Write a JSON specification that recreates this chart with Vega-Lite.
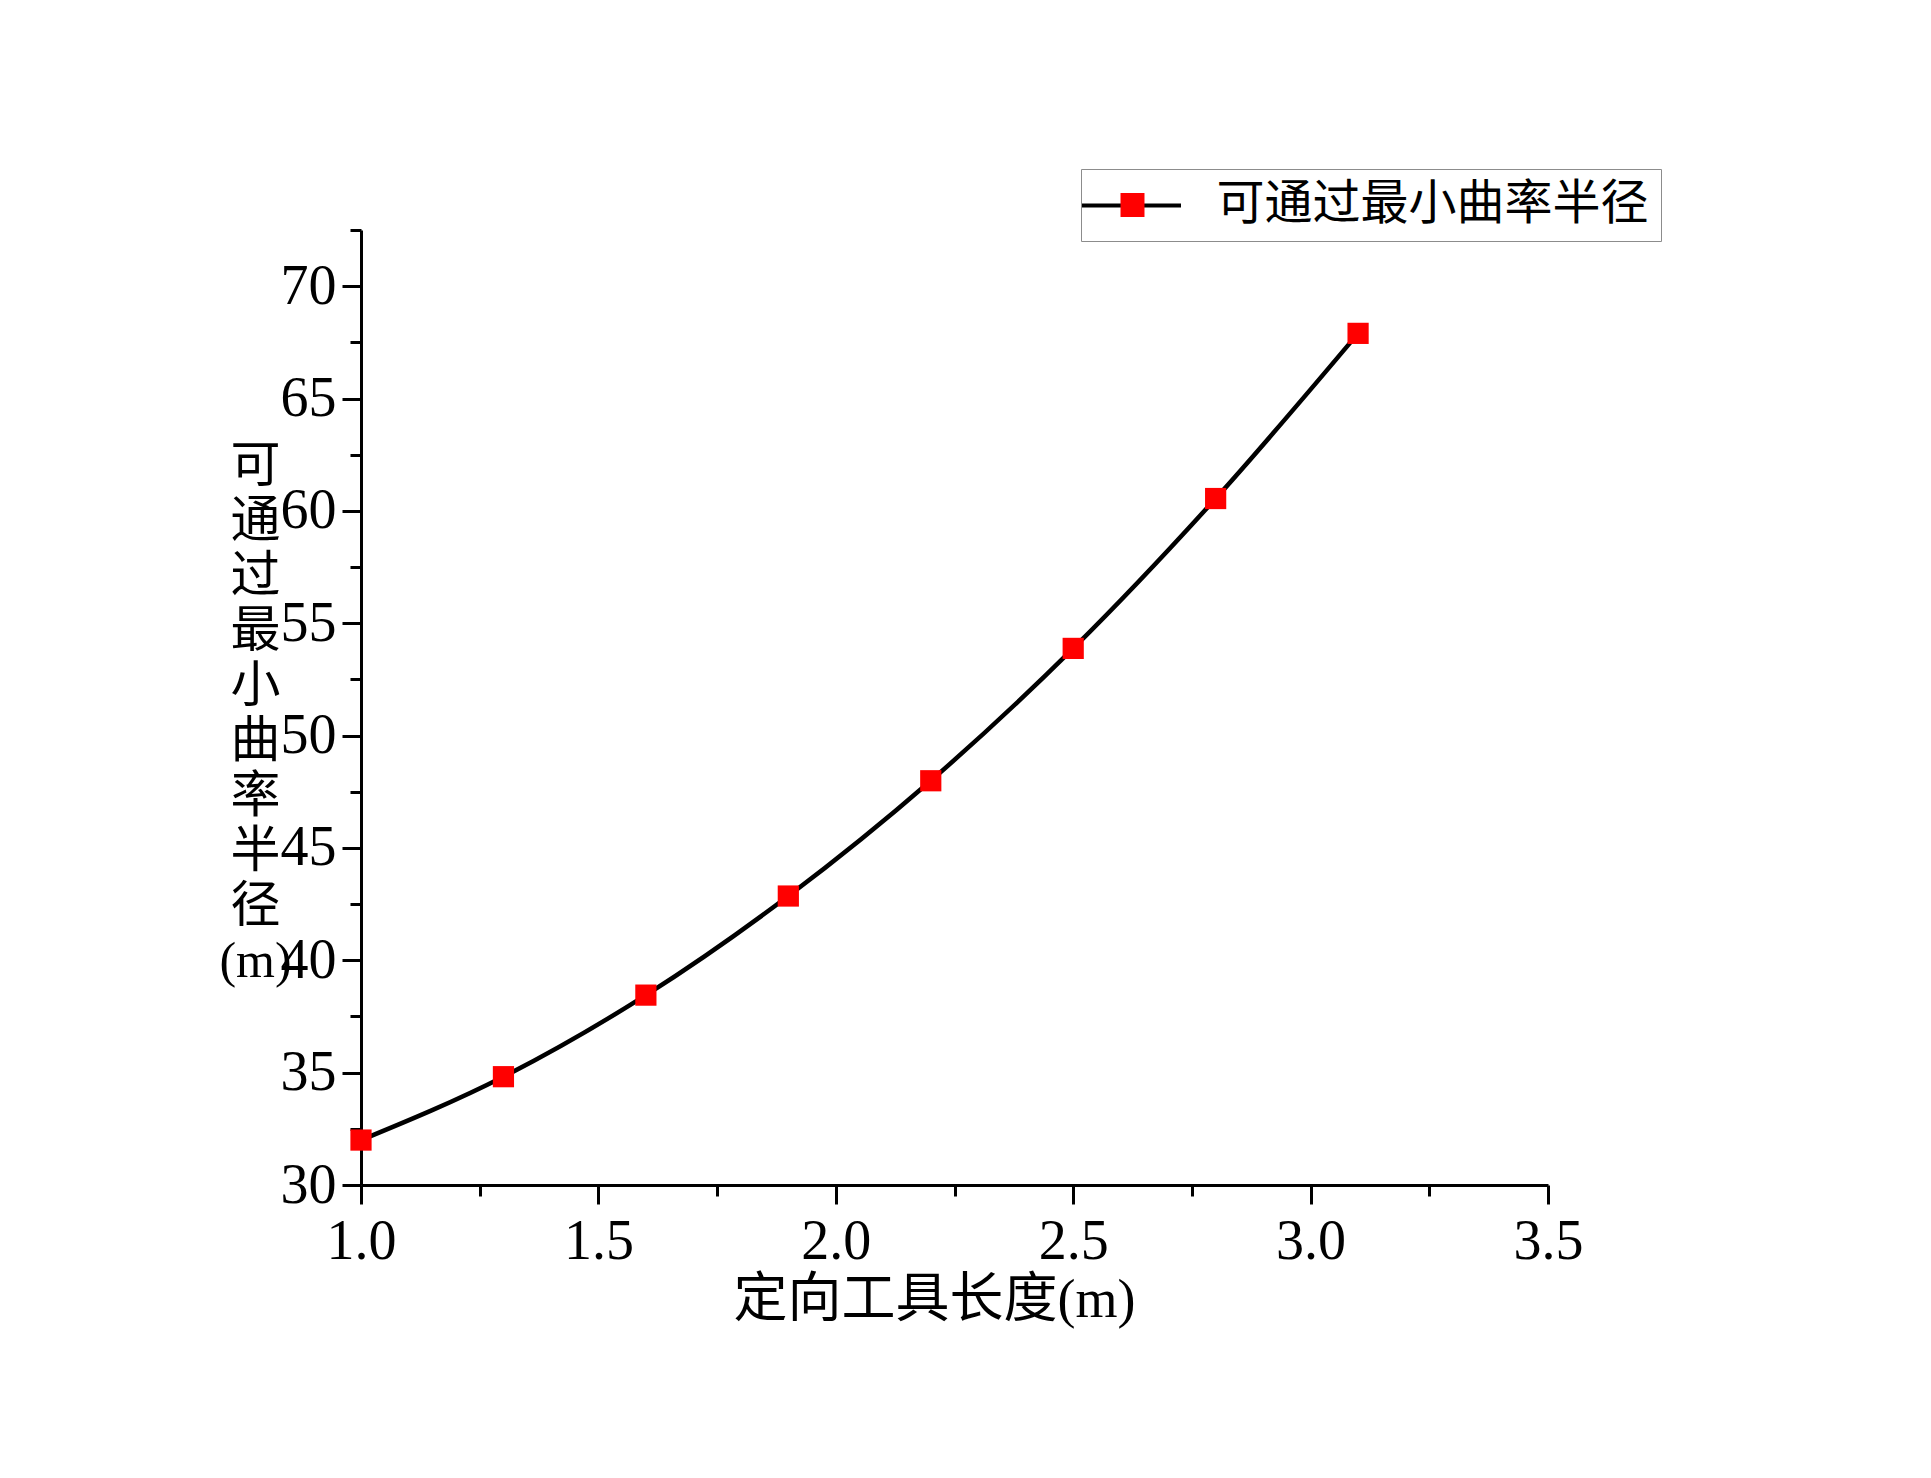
{
  "$schema": "https://vega.github.io/schema/vega-lite/v6.json",
  "autosize": {"type": "none"},
  "padding": {"left": 361, "top": 230, "right": 383, "bottom": 293},
  "width": 1187,
  "height": 955,
  "background": "white",
  "config": {"view": {"stroke": null}, "font": "Liberation Serif"},
  "data": {
    "values": [
      {"length": 1.0, "radius": 32.0, "series": "可通过最小曲率半径"},
      {"length": 1.3, "radius": 34.82, "series": "可通过最小曲率半径"},
      {"length": 1.6, "radius": 38.45, "series": "可通过最小曲率半径"},
      {"length": 1.9, "radius": 42.86, "series": "可通过最小曲率半径"},
      {"length": 2.2, "radius": 47.99, "series": "可通过最小曲率半径"},
      {"length": 2.5, "radius": 53.88, "series": "可通过最小曲率半径"},
      {"length": 2.8, "radius": 60.55, "series": "可通过最小曲率半径"},
      {"length": 3.1, "radius": 67.9, "series": "可通过最小曲率半径"}
    ]
  },
  "layer": [
    {
      "mark": {"type": "line", "interpolate": "monotone", "strokeWidth": 4.5},
      "encoding": {
        "x": {
          "field": "length",
          "type": "quantitative",
          "scale": {"domain": [1, 3.5], "nice": false, "zero": false},
          "axis": {
            "values": [1, 1.25, 1.5, 1.75, 2, 2.25, 2.5, 2.75, 3, 3.25, 3.5],
            "labelExpr": "abs(datum.value*2 - round(datum.value*2)) < 0.001 ? format(datum.value, '.1f') : ''",
            "tickSize": {"condition": {"test": "abs(datum.value*2 - round(datum.value*2)) < 0.001", "value": 19}, "value": 11},
            "tickWidth": 3,
            "tickColor": "black",
            "domainColor": "black",
            "domainWidth": 3,
            "grid": false,
            "labelFont": "Liberation Serif",
            "labelFontSize": 56,
            "labelColor": "black",
            "labelPadding": 10,
            "labelFlush": false,
            "labelOverlap": false,
            "title": "定向工具长度(m)",
            "titleFont": "Liberation Serif, Noto Sans CJK SC",
            "titleFontSize": 54,
            "titleFontWeight": "normal",
            "titleColor": "black",
            "titleX": 573,
            "titleY": 115,
            "titleAlign": "center",
            "titleBaseline": "middle"
          }
        },
        "y": {
          "field": "radius",
          "type": "quantitative",
          "scale": {"domain": [30, 72.5], "nice": false, "zero": false},
          "axis": {
            "values": [30, 32.5, 35, 37.5, 40, 42.5, 45, 47.5, 50, 52.5, 55, 57.5, 60, 62.5, 65, 67.5, 70, 72.5],
            "labelExpr": "datum.value % 5 === 0 ? format(datum.value, 'd') : ''",
            "tickSize": {"condition": {"test": "datum.value % 5 === 0", "value": 19}, "value": 11},
            "tickWidth": 3,
            "tickColor": "black",
            "domainColor": "black",
            "domainWidth": 3,
            "grid": false,
            "labelFont": "Liberation Serif",
            "labelFontSize": 56,
            "labelColor": "black",
            "labelPadding": 6,
            "labelFlush": false,
            "labelOverlap": false,
            "title": ["可", "通", "过", "最", "小", "曲", "率", "半", "径", "(m)"],
            "titleFont": "Liberation Serif, Noto Sans CJK SC",
            "titleFontSize": 50,
            "titleFontWeight": "normal",
            "titleColor": "black",
            "titleAngle": 0,
            "titleLineHeight": 55,
            "titleX": -106,
            "titleY": 236,
            "titleAlign": "center",
            "titleBaseline": "middle"
          }
        },
        "color": {
          "datum": "line",
          "scale": {"range": ["black"]},
          "legend": {
            "orient": "none",
            "legendX": 720,
            "legendY": -61,
            "title": null,
            "padding": 12,
            "symbolType": "M-2.222,0H2.222",
            "symbolSize": 2025,
            "symbolStrokeWidth": 4,
            "symbolStrokeColor": "black",
            "symbolOffset": 13.5,
            "labelExpr": "''",
            "labelFontSize": 48
          }
        }
      }
    },
    {
      "mark": {"type": "point", "shape": "square", "filled": true, "size": 450, "opacity": 1},
      "encoding": {
        "x": {"field": "length", "type": "quantitative"},
        "y": {"field": "radius", "type": "quantitative"},
        "fill": {
          "field": "series",
          "type": "nominal",
          "scale": {"range": ["#ff0000"]},
          "legend": {
            "orient": "none",
            "legendX": 720,
            "legendY": -61,
            "title": null,
            "padding": 12,
            "strokeColor": "#8c8c8c",
            "symbolType": "M-0.533,-0.533H0.533V0.533H-0.533Z",
            "symbolSize": 2025,
            "symbolStrokeWidth": 0,
            "symbolOffset": 15.5,
            "labelOffset": 60,
            "labelFont": "Liberation Serif, Noto Sans CJK SC",
            "labelFontSize": 48,
            "labelColor": "black",
            "labelLimit": 0
          }
        }
      }
    }
  ]
}
